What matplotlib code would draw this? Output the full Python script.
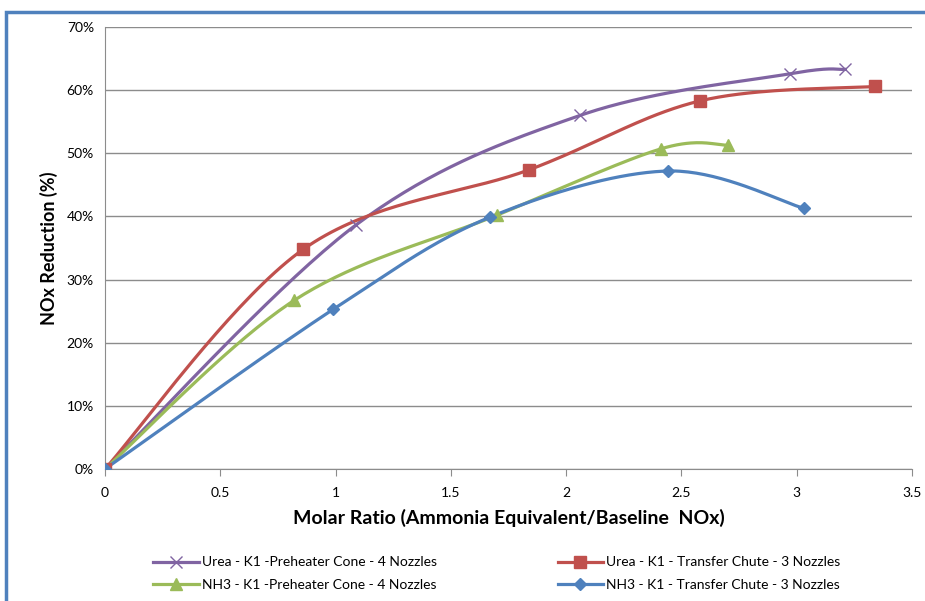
import numpy as np
import matplotlib.pyplot as plt
from matplotlib.patches import Rectangle

plt.rcParams['font.family'] = ['Lato', 'DejaVu Sans']

# data
urea_pre_x = [0, 1.09, 2.06, 2.97, 3.21]
urea_pre_y = [0, 38.7, 56.0, 62.6, 63.3]
urea_chute_x = [0, 0.86, 1.84, 2.58, 3.34]
urea_chute_y = [0, 34.8, 47.4, 58.3, 60.6]
nh3_pre_x = [0, 0.82, 1.70, 2.41, 2.70]
nh3_pre_y = [0, 26.7, 40.2, 50.7, 51.3]
nh3_chute_x = [0, 0.99, 1.67, 2.44, 3.03]
nh3_chute_y = [0, 25.3, 39.9, 47.2, 41.3]

labels = ["Urea - K1 -Preheater Cone - 4 Nozzles",
          "Urea - K1 - Transfer Chute - 3 Nozzles",
          "NH3 - K1 -Preheater Cone - 4 Nozzles",
          "NH3 - K1 - Transfer Chute - 3 Nozzles"]
x_ticks = [0, 0.5, 1, 1.5, 2, 2.5, 3, 3.5]
y_ticks = [0, 10, 20, 30, 40, 50, 60, 70]


def smooth(xs, ys, n=40):
    # excel-like smoothed line: bezier with catmull-rom control points
    p = np.column_stack([xs, ys]).astype(float)
    out = []
    for i in range(len(p) - 1):
        p0 = p[i - 1] if i > 0 else p[i]
        p1, p2 = p[i], p[i + 1]
        p3 = p[i + 2] if i + 2 < len(p) else p[i + 1]
        c1 = p1 + (p2 - p0) / 6
        c2 = p2 - (p3 - p1) / 6
        t = np.linspace(0, 1, n)[:, None]
        seg = ((1 - t) ** 3 * p1 + 3 * (1 - t) ** 2 * t * c1
               + 3 * (1 - t) * t ** 2 * c2 + t ** 3 * p2)
        out.append(seg)
    s = np.vstack(out)
    return s[:, 0], s[:, 1]


fig = plt.figure(figsize=(9.25, 6.01), dpi=100)
ax = fig.add_axes([0.1135, 0.2196, 0.8725, 0.7354])

series = [
    (urea_pre_x, urea_pre_y, '#8064A2', 'x', 9, labels[0]),
    (urea_chute_x, urea_chute_y, '#C0504D', 's', 8, labels[1]),
    (nh3_pre_x, nh3_pre_y, '#9BBB59', '^', 8, labels[2]),
    (nh3_chute_x, nh3_chute_y, '#4F81BD', 'D', 6, labels[3]),
]
handles = {}
for xs, ys, col, mk, ms, lab in series:
    sx, sy = smooth(xs, ys)
    ax.plot(sx, sy, color=col, lw=2.3, zorder=3)
    ax.plot(xs, ys, ls='none', marker=mk, ms=ms, color=col,
            mec=col, mew=1, zorder=4)
    h, = ax.plot([], [], color=col, lw=2.3, marker=mk, ms=ms, mec=col)
    handles[lab] = h

ax.set_xlim(0, 3.5)
ax.set_ylim(0, 70)
ax.set_xticks(x_ticks)
ax.set_xticklabels(['0', '0.5', '1', '1.5', '2', '2.5', '3', '3.5'])
ax.set_yticks(y_ticks)
ax.set_yticklabels([f'{v}%' for v in y_ticks])
ax.grid(axis='y', color='#8C8C8C', lw=1)
ax.set_axisbelow(True)
for s in ['top', 'right']:
    ax.spines[s].set_visible(False)
for s in ['left', 'bottom']:
    ax.spines[s].set_color('#8C8C8C')
ax.tick_params(axis='x', length=5, color='#8C8C8C', labelsize=10, pad=8)
ax.tick_params(axis='y', length=0, labelsize=10, pad=8)

ax.set_xlabel('Molar Ratio (Ammonia Equivalent/Baseline  NOx)',
              fontsize=14, fontweight='bold', labelpad=7)
ax.set_ylabel('NOx Reduction (%)', fontsize=13, fontweight='bold', labelpad=6)

order = [labels[0], labels[2], labels[1], labels[3]]
fig.legend([handles[l] for l in order], order, ncol=2, frameon=False,
           loc='lower left', bbox_to_anchor=(0.152, -0.004), fontsize=10,
           columnspacing=8.7, handlelength=3.3, handletextpad=0.2,
           labelspacing=0.75)

# outer chart border (cropped at right/bottom)
fig.patches.append(Rectangle((0.006, -0.05), 1.2, 1.03, transform=fig.transFigure,
                             fill=False, ec='#4F81BD', lw=2.5))

fig.savefig('out.png', dpi=100)
